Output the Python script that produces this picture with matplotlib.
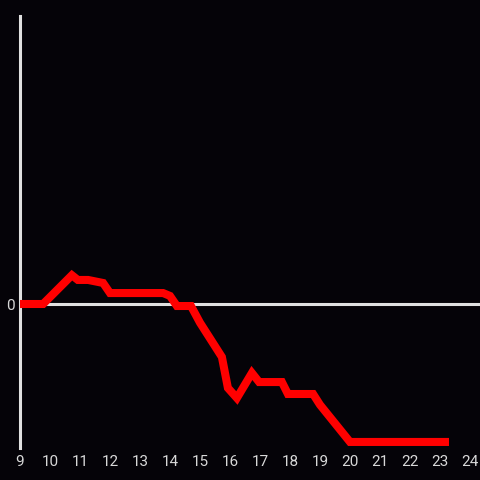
import matplotlib
matplotlib.use("Agg")
import matplotlib.pyplot as plt

hours = [9.0, 9.77, 10.73, 10.93, 11.27, 11.77, 12.0, 13.77, 14.0, 14.23, 14.7,
         15.0, 15.73, 15.93, 16.23, 16.73, 16.97, 17.73, 17.93, 18.77, 19.0, 20.0, 23.3]
values = [0.0, 0.0, 0.20, 0.167, 0.167, 0.146, 0.076, 0.076, 0.056, -0.014, -0.014,
          -0.13, -0.368, -0.583, -0.653, -0.479, -0.542, -0.542, -0.625, -0.625, -0.70, -0.958, -0.958]
x_ticks = list(range(9, 25))
x_labels = [str(t) for t in x_ticks]

bg = "#050308"
fig = plt.figure(figsize=(4.8, 4.8), dpi=100, facecolor=bg)
ax = fig.add_axes([20/480, 32/480, 460/480, 432/480], facecolor=bg)

ax.axhline(0, color="#e0e0e0", lw=2.2, zorder=1)
ax.plot(hours, values, color="#ff0000", lw=5.8, solid_capstyle="butt",
        solid_joinstyle="miter", zorder=3)

ax.set_xlim(9, 9 + 460/30)
ax.set_ylim(-1.0, 2.0)

for s in ["top", "right", "bottom"]:
    ax.spines[s].set_visible(False)
ax.spines["left"].set_color("#e0e0e0")
ax.spines["left"].set_linewidth(2.2)

ax.set_xticks(x_ticks)
ax.set_xticklabels(x_labels)
ax.set_yticks([0])
ax.set_yticklabels(["0"])
ax.tick_params(axis="both", length=0, colors="#d8d8d8", labelsize=11)
for lab in ax.get_xticklabels() + ax.get_yticklabels():
    lab.set_family("Roboto")
ax.tick_params(axis="x", pad=5)
ax.tick_params(axis="y", pad=4)

fig.savefig("out.png", dpi=100, facecolor=bg)
